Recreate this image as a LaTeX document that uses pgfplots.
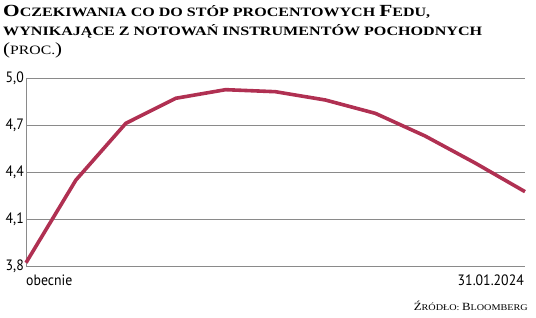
\documentclass[border=0pt]{standalone}
\usepackage{pgfplots}
\pgfplotsset{compat=1.18}
\usepackage{graphicx}
\usepackage{fontspec}
\setmainfont{Liberation Serif}
\newfontfamily\titlefont{Liberation Serif}
\newfontfamily\condfont[FakeStretch=0.92]{PT Sans}
\definecolor{linec}{HTML}{B03052}
\definecolor{gridc}{HTML}{8A8A8A}
\newcommand\tbig[1]{{\fontsize{17}{17}\selectfont #1}}
\newcommand\sbig[1]{{\fontsize{11}{11}\selectfont #1}}
\begin{document}
\begin{tikzpicture}
\path[use as bounding box] (0,0) rectangle (536pt,-317pt);
\node[anchor=base west, inner sep=0pt, font=\titlefont\bfseries\fontsize{12.8}{12.8}\selectfont] at (3pt,-16.7pt) {\resizebox{427pt}{\height}{\tbig{O}CZEKIWANIA CO DO STÓP PROCENTOWYCH \tbig{F}EDU,}};
\node[anchor=base west, inner sep=0pt, font=\titlefont\bfseries\fontsize{12.8}{12.8}\selectfont] at (3pt,-35pt) {\resizebox{479pt}{\height}{WYNIKAJĄCE Z NOTOWAŃ INSTRUMENTÓW POCHODNYCH}};
\node[anchor=base west, inner sep=0pt, font=\titlefont\fontsize{12.8}{12.8}\selectfont] at (3pt,-54pt) {\resizebox{59pt}{\height}{\tbig{(}PROC.\tbig{)}}};
\begin{axis}[
  at={(26pt,-266.7pt)}, anchor=south west,
  scale only axis, width=499pt, height=188pt,
  xmin=0, xmax=10, ymin=3.8, ymax=5.0,
  clip=false,
  axis x line*=bottom, axis y line*=left,
  axis line style={gridc, line width=0.8pt},
  xtick=\empty,
  ytick={3.8,4.1,4.4,4.7,5.0},
  ymajorgrids, grid style={gridc, line width=0.8pt},
  major tick length=0pt,
  /pgf/number format/.cd, use comma, fixed, fixed zerofill, precision=1, assume math mode=true,
  /pgfplots/.cd,
  yticklabel style={font=\condfont\fontsize{15}{15}\selectfont, inner sep=2pt},
]
\addplot[linec, line width=3.6pt, line join=round] coordinates {
(0,3.825) (1,4.353) (2,4.715) (3,4.875) (4,4.93) (5,4.917) (6,4.864) (7,4.779) (8,4.634) (9,4.462) (10,4.279)
};
\end{axis}
\node[anchor=base west, inner sep=0pt, font=\condfont\fontsize{15}{15}\selectfont] at (26pt,-285pt) {obecnie};
\node[anchor=base east, inner sep=0pt, font=\condfont\fontsize{15}{15}\selectfont] at (524pt,-285pt) {31.01.2024};
\node[anchor=base east, inner sep=0pt, font=\titlefont\fontsize{8.8}{8.8}\selectfont] at (528pt,-310pt) {\resizebox{114pt}{\height}{\sbig{Ź}RÓDŁO: \sbig{B}LOOMBERG}};
\end{tikzpicture}
\end{document}
